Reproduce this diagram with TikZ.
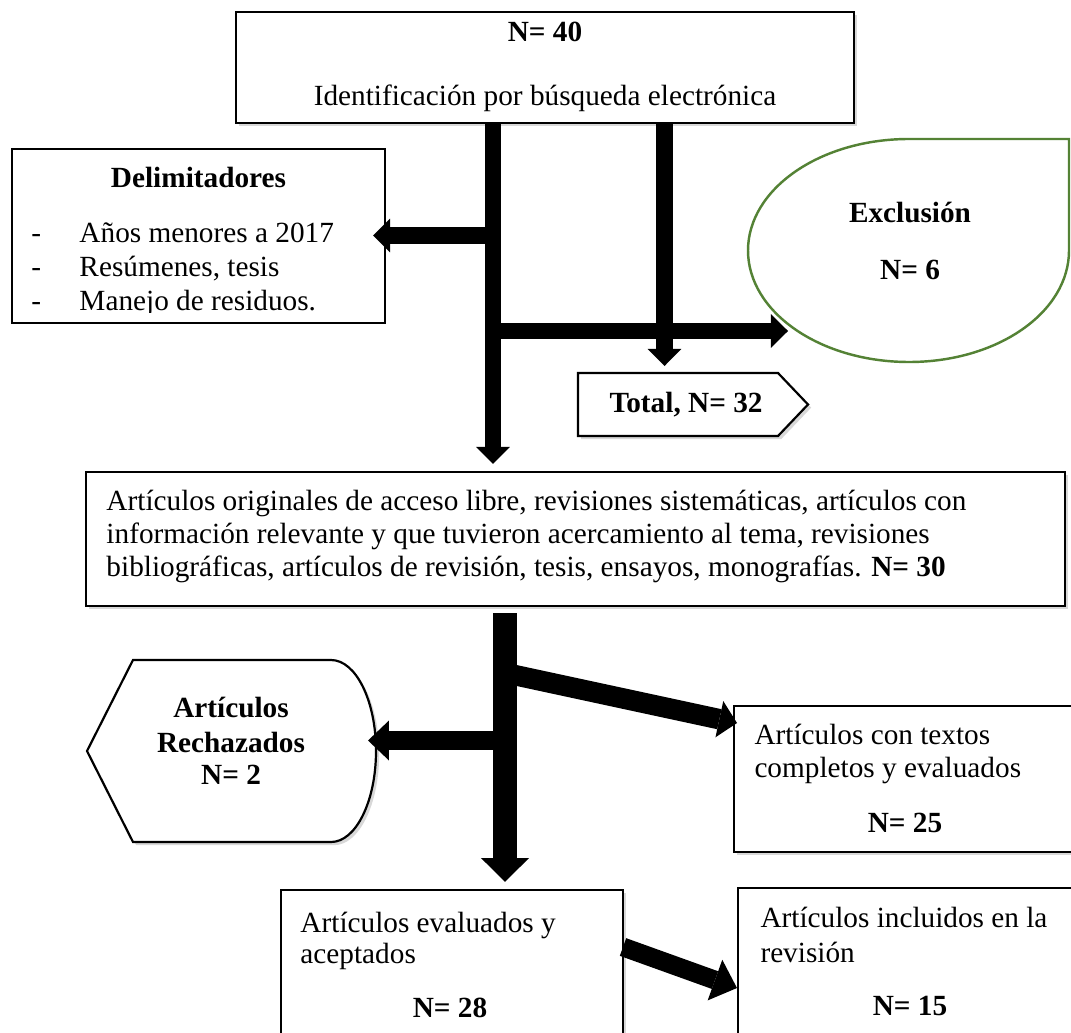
\documentclass[tikz,border=0pt]{standalone}
\usepackage{fontspec}
\setmainfont{Liberation Serif}
\usetikzlibrary{arrows.meta,shadows,fit,calc}
\definecolor{exgreen}{RGB}{84,130,53}
\begin{document}
\begin{tikzpicture}[x=0.41pt,y=-0.41pt,
  every node/.style={font=\fontsize{12}{13.8}\selectfont},
  txt/.style={inner sep=0pt, anchor=base},
  txtl/.style={inner sep=0pt, anchor=base west},
  shadowed/.style={drop shadow={opacity=0.3, shadow xshift=1.3pt, shadow yshift=-1.3pt}},
  boxsh/.style={draw=black, line width=0.9pt, fill=white, inner sep=0pt, shadowed},
  boxplain/.style={draw=black, line width=0.9pt, fill=white, inner sep=0pt},
  shapeline/.style={draw=black, line width=0.9pt, fill=white, shadowed},
  arrA/.style={line width=6.6pt, -{Triangle[width=13.9pt,length=7pt,line width=0pt]}},
  arrD/.style={line width=10.2pt, -{Triangle[width=19.7pt,length=9.8pt,line width=0pt]}},
  arrL/.style={line width=7.8pt, -{Triangle[width=16.4pt,length=8.6pt,line width=0pt]}},
  arrG1/.style={line width=8.4pt, -{Triangle[width=15.2pt,length=7.4pt,line width=0pt]}},
  arrG2/.style={line width=7.7pt, -{Triangle[width=17.7pt,length=9.6pt,line width=0pt]}}
]
\useasboundingbox (0,0) rectangle (1071,1032);
\fill[white] (0,0) rectangle (1071,1032);

% ---------- boxes ----------
\node[boxsh, fit={(236,12) (854,123)}] (top) {};
\node[boxplain, fit={(12,149) (385,323)}] (delim) {};
\node[boxsh, fit={(86,472) (1065,606)}] (big) {};
\node[boxsh, fit={(734,706) (1100,852)}] (textos) {};
\node[boxsh, fit={(281,890) (623,1090)}] (eval) {};
\node[boxsh, fit={(738,888) (1100,1090)}] (incl) {};

% Exclusion (teardrop)
\draw[exgreen, line width=1pt, fill=white] (909,139) -- (1069,139) -- (1069,250.5)
  .. controls (1069,312) and (998,362) .. (909,362)
  .. controls (820,362) and (748,312) .. (748,250.5)
  .. controls (748,189) and (820,139) .. (909,139) -- cycle;

% Total (signal shape)
\draw[shapeline] (578,373) -- (778,373) -- (808,404.5) -- (778,436) -- (578,436) -- cycle;

% Articulos rechazados (display shape)
\draw[shapeline] (87,751) -- (133,660) -- (331,660)
  .. controls (356,660) and (376,701) .. (376,751)
  .. controls (376,801) and (356,842) .. (331,842) -- (133,842) -- cycle;

% ---------- texts ----------
\node[txt] (n40) at (545,42) {\textbf{N= 40}};
\node[txt] (ident) at (545,106) {Identificación por búsqueda electrónica};

\node[txt] (delimT) at (198.5,188) {\textbf{Delimitadores}};
\begin{scope}
  \clip (12,149) rectangle (385,313);
  \node[txtl] (dd1) at (31,243) {-};
  \node[txtl] (d1) at (79,243) {Años menores a 2017};
  \node[txtl] (dd2) at (31,277) {-};
  \node[txtl] (d2) at (79,277) {Resúmenes, tesis};
  \node[txtl] (dd3) at (31,311) {-};
  \node[txtl] (d3) at (79,311) {Manejo de residuos.};
\end{scope}

\node[txt] (exT) at (910,223) {\textbf{Exclusión}};
\node[txt] (exN) at (910,280) {\textbf{N= 6}};

\node[txt] (total) at (686,412) {\textbf{Total, N= 32}};

\node[txtl] (b1) at (106,510) {Artículos originales de acceso libre, revisiones sistemáticas, artículos con};
\node[txtl] (b2) at (106,543) {información relevante y que tuvieron acercamiento al tema, revisiones};
\node[txtl] (b3) at (106,576) {bibliográficas, artículos de revisión, tesis, ensayos, monografías. \textbf{N= 30}};

\node[txt] (r1) at (231,717) {\textbf{Artículos}};
\node[txt] (r2) at (231,752) {\textbf{Rechazados}};
\node[txt] (r3) at (231,784) {\textbf{N= 2}};

\node[txtl] (t1) at (754,744) {Artículos con textos};
\node[txtl] (t2) at (754,777) {completos y evaluados};
\node[txt] (t3) at (905,832) {\textbf{N= 25}};

\node[txtl] (e1) at (300,932) {Artículos evaluados y};
\node[txtl] (e2) at (300,963) {aceptados};
\node[txt] (e3) at (450,1017) {\textbf{N= 28}};

\node[txtl] (i1) at (760,927) {Artículos incluidos en la};
\node[txtl] (i2) at (760,962) {revisión};
\node[txt] (i3) at (910,1015) {\textbf{N= 15}};

% ---------- connectors ----------
\coordinate (xA) at (493,0);
\coordinate (xB) at (664.5,0);
\coordinate (xC) at (505,0);
\coordinate (jA1) at (493,235.5);
\coordinate (jA2) at (493,331);
\coordinate (exclIn) at (788,331);
\coordinate (totIn) at (664.5,366);
\coordinate (jC1) at (505,673);
\coordinate (textIn) at (737,723);
\coordinate (jC2) at (505,740.5);
\coordinate (rejIn) at (368,740.5);
\coordinate (evOut) at (623,947);
\coordinate (inIn) at (737,988);

\draw[arrA] (top.south -| xA) -- ($(big.north -| xA)+(0,-7)$);
\draw[arrA] (top.south -| xB) -- (totIn);
\draw[arrA] (jA1) -- ($(jA1 -| delim.east)+(-13,0)$);
\draw[arrA] (jA2) -- (exclIn);

\draw[arrD] ($(big.south -| xC)+(0,6)$) -- ($(eval.north -| xC)+(0,-7)$);
\draw[arrG1] (jC1) -- (textIn);
\draw[arrL] (jC2) -- (rejIn);
\draw[arrG2] (evOut) -- (inIn);
\end{tikzpicture}
\end{document}
